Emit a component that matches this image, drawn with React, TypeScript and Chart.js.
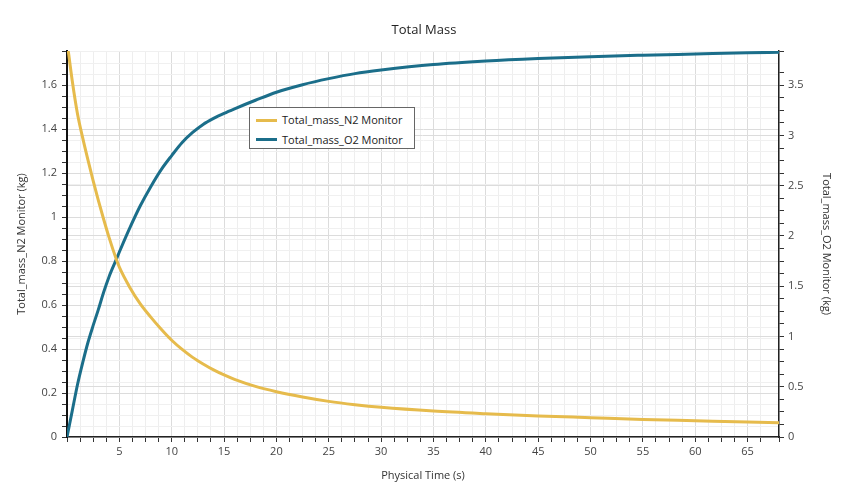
import React, { useEffect, useRef } from "react";
import { Chart, registerables } from "chart.js";

Chart.register(...registerables);

const TITLE = "Total Mass";
const X_TITLE = "Physical Time (s)";
const N2_LABEL = "Total_mass_N2 Monitor";
const O2_LABEL = "Total_mass_O2 Monitor";
const Y_LEFT_TITLE = "Total_mass_N2 Monitor (kg)";
const Y_RIGHT_TITLE = "Total_mass_O2 Monitor (kg)";

const time = [0, 0.5, 1, 1.5, 2, 2.5, 3, 3.5, 4, 4.71, 5, 6, 7, 8, 9, 10, 11, 12, 13, 14, 15, 16, 18, 20, 22.5, 25, 27.5, 30, 35, 40, 45, 50, 55, 60, 65, 68];
const n2Mass = [1.8, 1.62, 1.47, 1.36, 1.26, 1.165, 1.075, 0.99, 0.91, 0.808, 0.772, 0.68, 0.605, 0.545, 0.49, 0.44, 0.398, 0.362, 0.332, 0.305, 0.282, 0.262, 0.23, 0.206, 0.182, 0.162, 0.147, 0.135, 0.118, 0.106, 0.096, 0.088, 0.08, 0.074, 0.068, 0.065];
const o2Mass = [0, 0.26, 0.52, 0.74, 0.94, 1.11, 1.27, 1.44, 1.59, 1.767, 1.84, 2.08, 2.3, 2.49, 2.66, 2.8, 2.93, 3.03, 3.11, 3.17, 3.22, 3.265, 3.35, 3.43, 3.505, 3.565, 3.615, 3.65, 3.705, 3.74, 3.765, 3.784, 3.798, 3.81, 3.822, 3.828];

const X_MIN = 0;
const X_MAX = 68;
const X_STEP = 1.25;
const X_MAJOR = 5;
const YL_MAX = 1.755;
const YL_STEP = 0.05;
const YL_MAJOR = 0.2;
const YR_MAX = 3.84;
const YR_STEP = 0.125;
const YR_MAJOR = 0.5;

const N2_COLOR = "#e6bb4c";
const O2_COLOR = "#1b6e8a";
const FONT = "'Open Sans', 'Noto Sans', sans-serif";

const isMult = (v: number, m: number) => Math.abs(v / m - Math.round(v / m)) < 1e-6;
const fmt = (v: number) => String(Math.round(v * 100) / 100);

export default function App() {
  const canvasRef = useRef<HTMLCanvasElement | null>(null);

  useEffect(() => {
    if (!canvasRef.current) return;
    const tickFont = { family: FONT, size: 11 };
    const titleFont = { family: FONT, size: 11 };
    const chart = new Chart(canvasRef.current, {
      type: "line",
      data: {
        datasets: [
          {
            label: N2_LABEL,
            data: time.map((t, i) => ({ x: t, y: n2Mass[i] })),
            borderColor: N2_COLOR,
            backgroundColor: N2_COLOR,
            borderWidth: 3,
            pointRadius: 0,
            cubicInterpolationMode: "monotone",
            yAxisID: "y",
          },
          {
            label: O2_LABEL,
            data: time.map((t, i) => ({ x: t, y: o2Mass[i] })),
            borderColor: O2_COLOR,
            backgroundColor: O2_COLOR,
            borderWidth: 3,
            pointRadius: 0,
            cubicInterpolationMode: "monotone",
            yAxisID: "y1",
          },
        ],
      },
      options: {
        responsive: false,
        animation: false,
        layout: { padding: 0 },
        plugins: {
          legend: { display: false },
          tooltip: { enabled: false },
          title: {
            display: true,
            text: TITLE,
            color: "#222",
            font: { family: FONT, size: 13, weight: "normal" },
            padding: { top: 22, bottom: 13.4 },
          },
        },
        scales: {
          x: {
            type: "linear",
            position: "bottom",
            min: X_MIN,
            max: X_MAX,
            afterFit: (s: any) => {
              s.height = 59;
            },
            ticks: {
              stepSize: X_STEP,
              autoSkip: false,
              maxRotation: 0,
              padding: 3,
              color: "#444",
              font: tickFont,
              callback: (v: any) => (v > 0 && isMult(Number(v), X_MAJOR) ? fmt(Number(v)) : ""),
            },
            grid: {
              color: (c: any) => (isMult(c.tick.value, X_MAJOR) ? "#dcdcdc" : "#eeeeee"),
              tickColor: "#333",
              tickLength: 5,
            },
            border: { color: "#222", width: 1.5 },
            title: {
              display: true,
              text: X_TITLE,
              color: "#333",
              font: titleFont,
              padding: { top: 0, bottom: 13.4 },
            },
          },
          y: {
            type: "linear",
            position: "left",
            min: 0,
            max: YL_MAX,
            afterFit: (s: any) => {
              s.width = 67;
            },
            ticks: {
              stepSize: YL_STEP,
              autoSkip: false,
              padding: 5,
              color: "#444",
              font: tickFont,
              callback: (v: any) => (isMult(Number(v), YL_MAJOR) ? fmt(Number(v)) : ""),
            },
            grid: {
              color: (c: any) => (isMult(c.tick.value, YL_MAJOR) ? "#dcdcdc" : "#f0f0f0"),
              tickColor: "#333",
              tickLength: 5,
            },
            border: { color: "#111", width: 2 },
            title: {
              display: true,
              text: Y_LEFT_TITLE,
              color: "#333",
              font: titleFont,
              padding: { top: 15.4, bottom: 0 },
            },
          },
          y1: {
            type: "linear",
            position: "right",
            min: 0,
            max: YR_MAX,
            afterFit: (s: any) => {
              s.width = 69;
            },
            ticks: {
              stepSize: YR_STEP,
              autoSkip: false,
              padding: 4,
              color: "#444",
              font: tickFont,
              callback: (v: any) => (isMult(Number(v), YR_MAJOR) ? fmt(Number(v)) : ""),
            },
            grid: {
              color: (c: any) => (isMult(c.tick.value, YR_MAJOR) ? "#dcdcdc" : "rgba(0,0,0,0)"),
              tickColor: "#333",
              tickLength: 5,
            },
            border: { color: "#222", width: 1.5 },
            title: {
              display: true,
              text: Y_RIGHT_TITLE,
              color: "#333",
              font: titleFont,
              padding: { top: 15.4, bottom: 0 },
            },
          },
        },
      },
    } as any);
    return () => chart.destroy();
  }, []);

  const rowText: React.CSSProperties = {
    position: "absolute",
    left: 32,
    fontFamily: FONT,
    fontSize: 11,
    color: "#222",
    lineHeight: "14px",
    whiteSpace: "nowrap",
  };

  return (
    <div style={{ position: "fixed", left: 0, top: 0, width: 848, height: 496, background: "#fff" }}>
      <canvas ref={canvasRef} width={848} height={496} style={{ display: "block", width: 848, height: 496 }} />
      <div
        style={{
          position: "absolute",
          left: 249,
          top: 107,
          width: 164,
          height: 40,
          border: "1px solid #666",
          background: "#fff",
        }}
      >
        <div style={{ position: "absolute", left: 6, top: 10.5, width: 21, height: 3, background: N2_COLOR }} />
        <div style={{ ...rowText, top: 5 }}>{N2_LABEL}</div>
        <div style={{ position: "absolute", left: 6, top: 30, width: 21, height: 3, background: O2_COLOR }} />
        <div style={{ ...rowText, top: 24.5 }}>{O2_LABEL}</div>
      </div>
    </div>
  );
}
